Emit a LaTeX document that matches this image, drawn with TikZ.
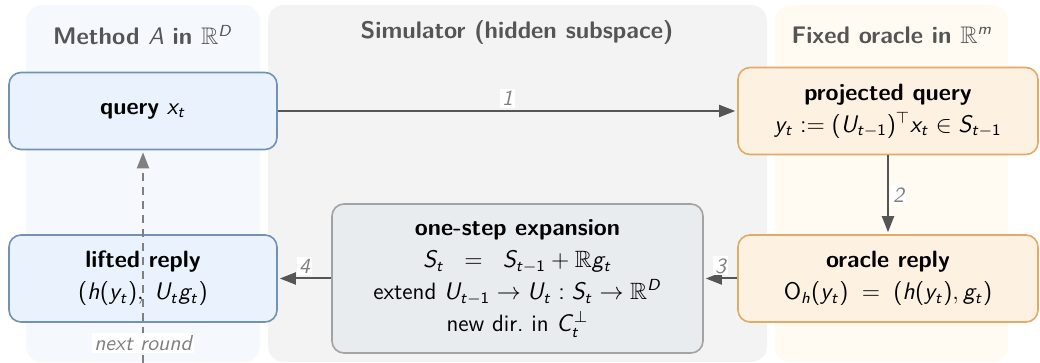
\documentclass[tikz,border=0pt]{standalone}
\usepackage{amsmath,amssymb}
\usetikzlibrary{arrows.meta,positioning}

% sans serif math: slanted cmss letters, upright cmss digits and delimiters
\DeclareSymbolFont{sfletters}{OT1}{cmss}{m}{sl}
\SetSymbolFont{operators}{normal}{OT1}{cmss}{m}{n}
\makeatletter
\count@=`a
\loop
  \mathcode\count@=\numexpr"7000+\symsfletters*256+\count@\relax
  \mathcode\numexpr\count@-32\relax=\numexpr"7000+\symsfletters*256+\count@-32\relax
  \advance\count@ by 1
\ifnum\count@<`\{ \repeat
\makeatother

\definecolor{methodbg}{HTML}{F5F9FE}
\definecolor{simbg}{HTML}{F3F3F3}
\definecolor{oraclebg}{HTML}{FFFAF2}
\definecolor{bluefill}{HTML}{EAF2FD}
\definecolor{blueline}{HTML}{7391B3}
\definecolor{orangefill}{HTML}{FDF1E2}
\definecolor{orangeline}{HTML}{E2AA66}
\definecolor{grayfill}{HTML}{E9ECEF}
\definecolor{grayline}{HTML}{A3A3A3}
\definecolor{arrowgray}{HTML}{555555}
\definecolor{titlegray}{HTML}{555555}

\tikzset{
  box/.style={draw, rounded corners=6pt, line width=0.8pt, align=center,
    font=\sffamily\fontsize{11.8}{16}\selectfont},
  bluebox/.style={box, fill=bluefill, draw=blueline},
  orangebox/.style={box, fill=orangefill, draw=orangeline},
  graybox/.style={box, fill=grayfill, draw=grayline},
  title/.style={font=\sffamily\bfseries\fontsize{12}{14}\selectfont, text=titlegray},
  flow/.style={draw=arrowgray, line width=1pt, shorten >=1pt,
    -{Triangle[length=8pt,width=6pt]}},
  num/.style={font=\sffamily\itshape\fontsize{10.8}{12}\selectfont, text=gray, fill=white, inner sep=1pt},
}

\begin{document}
\begin{tikzpicture}[x=0.5pt, y=-0.5pt]
  \useasboundingbox (0,0) rectangle (1040,363);
  % column backgrounds
  \fill[methodbg, rounded corners=8pt] (26,5) rectangle (260,362);
  \fill[simbg, rounded corners=8pt] (268,5) rectangle (767,362);
  \fill[oraclebg, rounded corners=8pt] (775,5) rectangle (1008,362);
  \node[title] (tmethod) at (143,35) {Method $A$ in $\mathbb{R}^D$};
  \node[title] (tsim) at (517,33) {Simulator (hidden subspace)};
  \node[title] (toracle) at (892,35) {Fixed oracle in $\mathbb{R}^m$};

  % boxes
  \node[bluebox, minimum width=134pt, minimum height=38.5pt] (query) at (143,111)
    {\textbf{query} $x_t$};
  \node[orangebox, minimum width=150pt, minimum height=43.5pt] (proj) at (888,111)
    {\textbf{projected query}\\ $y_t := (U_{t-1})^\top x_t \in S_{t-1}$};
  \node[orangebox, minimum width=150pt, minimum height=43.5pt] (reply) at (888,278.5)
    {\textbf{oracle reply}\\ $\mathrm{O}_h(y_t) \;=\; (h(y_t), g_t)$};
  \node[graybox, minimum width=185.5pt, minimum height=74.5pt] (expand) at (517.5,278.5)
    {\textbf{one-step expansion}\\ $S_t \;\;=\;\; S_{t-1} + \mathbb{R}g_t$\\
     extend $U_{t-1} \to U_t : S_t \to \mathbb{R}^D$\\ new dir.\ in $C_t^{\perp}$};
  \node[bluebox, minimum width=134pt, minimum height=43.5pt] (lifted) at (143,278.5)
    {\textbf{lifted reply}\\ $(h(y_t),\; U_t g_t)$};

  % steps
  \draw[flow] (query) -- node[num, above=1pt] {1} (proj);
  \draw[flow] (proj) -- node[num, right=1pt] {2} (reply);
  \draw[flow] (reply) -- node[num, above=1pt] {3} (expand);
  \draw[flow] (expand) -- node[num, above=1pt] {4} (lifted);

  % back to the next query
  \coordinate (nextr) at (143,363);
  \draw[flow, draw=gray, dash pattern=on 4pt off 3pt]
    (nextr) -- node[num, pos=0.094] {next round} (query);
\end{tikzpicture}
\end{document}
